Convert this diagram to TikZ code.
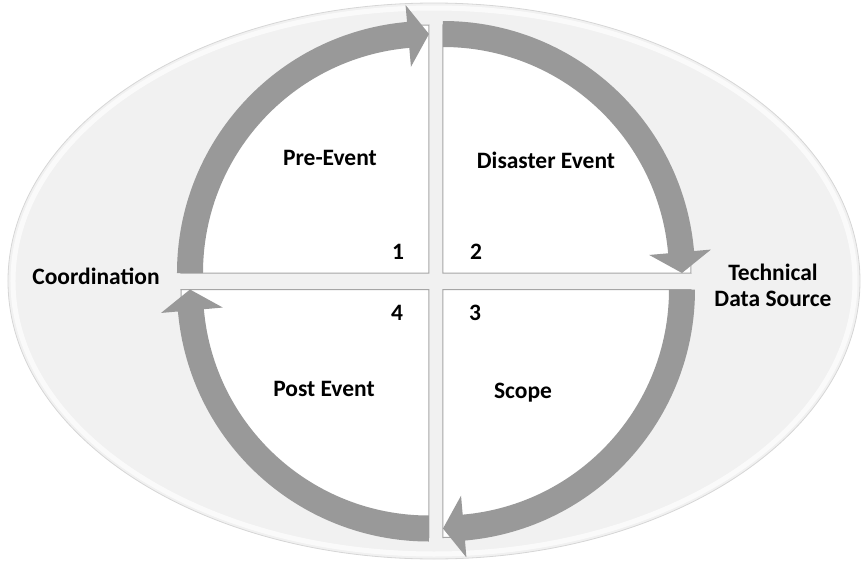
\documentclass[tikz,border=0pt]{standalone}
\usepackage{fontspec}
\setmainfont{Carlito}

\definecolor{ringgray}{RGB}{153,153,153}
\definecolor{padgray}{RGB}{241,241,241}
\definecolor{edgegray}{RGB}{166,166,166}
\definecolor{rimgray}{RGB}{214,214,214}

\tikzset{
	phasetext/.style={font=\fontsize{23.5}{26}\selectfont\bfseries,align=center,inner sep=0pt},
}

\begin{document}
\begin{tikzpicture}[x=1pt,y=1pt]
	\useasboundingbox (-436,-285) rectangle (427,281);
	
	% backdrop
	\fill[padgray] (-2,0) ellipse[x radius=426pt,y radius=278pt];
	\draw[white,opacity=0.7,line width=5pt] (-2,0) ellipse[x radius=421pt,y radius=273pt];
	\draw[rimgray,line width=0.8pt] (-2,0) ellipse[x radius=426pt,y radius=278pt];
	
	% four quarters, each with its ring arrow running clockwise
	\foreach \cx/\cy/\s in {-7/8/180, 7/8/90, 7/-8.5/0, -7/-8.5/-90}{
		\pgfmathsetmacro\bodyend{\s-85}
		\pgfmathsetmacro\tipang{\s-90}
		\begin{scope}[shift={(\cx,\cy)}]
			\filldraw[fill=white,draw=edgegray,line width=1pt] (0,0) -- (\s:248) arc[start angle=\s,delta angle=-90,radius=248pt] -- cycle;
			\fill[ringgray] (\s:252) arc[start angle=\s,end angle=\bodyend,radius=252pt]
				-- (\bodyend:269) -- (\tipang:239) -- (\bodyend:207)
				-- (\bodyend:226) arc[start angle=\bodyend,end angle=\s,radius=226pt] -- cycle;
		\end{scope}
	}
	
	\node[phasetext] (pre) at (-106,123) {Pre-Event};
	\node[phasetext] (disaster) at (110,121) {Disaster Event};
	\node[phasetext] (post) at (-112,-108) {Post Event};
	\node[phasetext] (scope) at (87,-112) {Scope};
	
	\node[phasetext] (one) at (-38,29) {1};
	\node[phasetext] (two) at (40,29) {2};
	\node[phasetext] (three) at (39,-32) {3};
	\node[phasetext] (four) at (-39,-32) {4};
	
	\node[phasetext] (coord) at (-340,5) {Coordination};
	\node[phasetext] (techsrc) at (337,-4) {Technical\\Data Source};
\end{tikzpicture}
\end{document}
